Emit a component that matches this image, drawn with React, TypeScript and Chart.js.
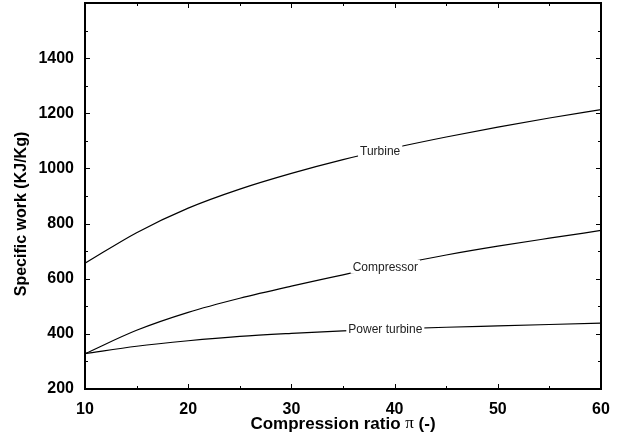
import React, { useEffect, useRef } from 'react';
import { Chart, registerables } from 'chart.js';
Chart.register(...registerables);

const ratios = [10, 15, 20, 25, 30, 35, 40, 45, 50, 55, 60];
const turbine = [656, 767, 856, 925, 982, 1032, 1075, 1114, 1150, 1183, 1213];
const compressor = [328, 413, 478, 529, 573, 614, 650, 686, 718, 747, 775];
const powerTurbine = [328, 355, 375, 391, 402, 411, 418, 424, 429, 434, 439];
const seriesNames = ['Turbine', 'Compressor', 'Power turbine'];
const labelAt = [38.6, 39.1, 39.1];

const xMin = 10, xMax = 60, xStep = 10, xMinor = 5;
const yMin = 200, yMax = 1600, yStep = 200, yMinor = 100;
const yLabelMax = 1400;

const xTitle = ['Compression ratio ', 'π', ' (-)'];
const yTitle = 'Specific work (KJ/Kg)';

const FONT = 'Arial, "Liberation Sans", Helvetica, sans-serif';

function interp(xs: number[], ys: number[], x: number) {
  for (let i = 0; i < xs.length - 1; i++) {
    if (x >= xs[i] && x <= xs[i + 1]) {
      const t = (x - xs[i]) / (xs[i + 1] - xs[i]);
      return ys[i] + t * (ys[i + 1] - ys[i]);
    }
  }
  return ys[ys.length - 1];
}

const allSeries = [turbine, compressor, powerTurbine];

const decoPlugin = {
  id: 'deco',
  afterDatasetsDraw(chart: any) {
    const { ctx, scales } = chart;
    const x = scales.x, y = scales.y;
    ctx.save();
    ctx.font = `12px ${FONT}`;
    ctx.textAlign = 'center';
    ctx.textBaseline = 'middle';
    allSeries.forEach((s, i) => {
      const px = x.getPixelForValue(labelAt[i]);
      const py = y.getPixelForValue(interp(ratios, s, labelAt[i]));
      const w = ctx.measureText(seriesNames[i]).width;
      ctx.fillStyle = '#fff';
      ctx.fillRect(px - w / 2 - 2, py - 7, w + 4, 14);
      ctx.fillStyle = '#222';
      ctx.fillText(seriesNames[i], px, py + 0.5);
    });
    ctx.restore();
  },
  afterDraw(chart: any) {
    const { ctx, chartArea, scales } = chart;
    const { left, right, top, bottom } = chartArea;
    const x = scales.x, y = scales.y;
    ctx.save();
    ctx.strokeStyle = '#000';
    ctx.lineWidth = 1;
    ctx.beginPath();
    for (let v = yMin; v <= yMax; v += yMinor) {
      const py = Math.round(y.getPixelForValue(v)) + 0.5;
      const len = v % yStep === 0 ? 5 : 3;
      ctx.moveTo(left, py); ctx.lineTo(left + len, py);
      ctx.moveTo(right, py); ctx.lineTo(right - len, py);
    }
    for (let v = xMin; v <= xMax; v += xMinor) {
      const px = Math.round(x.getPixelForValue(v)) + 0.5;
      const len = v % xStep === 0 ? 5 : 3;
      ctx.moveTo(px, bottom); ctx.lineTo(px, bottom - len);
      ctx.moveTo(px, top); ctx.lineTo(px, top + len);
    }
    ctx.stroke();
    ctx.lineWidth = 2;
    ctx.strokeRect(left, top, right - left, bottom - top);

    // x-axis title with a symbol-style pi
    const fonts = [`bold 17px ${FONT}`, `17px "Liberation Serif", "DejaVu Serif", serif`, `bold 17px ${FONT}`];
    let total = 0;
    xTitle.forEach((t, i) => { ctx.font = fonts[i]; total += ctx.measureText(t).width; });
    let cx = (left + right) / 2 - total / 2;
    const cy = 424;
    ctx.fillStyle = '#000';
    ctx.textAlign = 'left';
    ctx.textBaseline = 'middle';
    xTitle.forEach((t, i) => { ctx.font = fonts[i]; ctx.fillText(t, cx, cy); cx += ctx.measureText(t).width; });

    // y-axis title
    ctx.save();
    ctx.translate(22, 214);
    ctx.rotate(-Math.PI / 2);
    ctx.font = `bold 16px ${FONT}`;
    ctx.textAlign = 'center';
    ctx.fillText(yTitle, 0, 0);
    ctx.restore();
    ctx.restore();
  },
};

export default function App() {
  const ref = useRef<HTMLCanvasElement>(null);
  useEffect(() => {
    if (!ref.current) return;
    const mk = (s: number[]) => ratios.map((r, i) => ({ x: r, y: s[i] }));
    const chart = new Chart(ref.current, {
      type: 'line',
      data: {
        datasets: allSeries.map((s, i) => ({
          label: seriesNames[i],
          data: mk(s),
          borderColor: '#000',
          borderWidth: 1.2,
          pointRadius: 0,
          fill: false,
          cubicInterpolationMode: 'monotone' as const,
        })),
      },
      options: {
        animation: false,
        responsive: true,
        maintainAspectRatio: false,
        layout: { padding: { top: 3, right: 23, left: 0, bottom: 0 } },
        plugins: { legend: { display: false }, tooltip: { enabled: false } },
        scales: {
          x: {
            type: 'linear',
            min: xMin, max: xMax,
            grid: { display: false },
            border: { display: false },
            ticks: {
              stepSize: xStep,
              color: '#000',
              font: { family: FONT, size: 16, weight: 'bold' },
              padding: 3,
              maxRotation: 0,
            },
            afterFit: (s: any) => { s.height = 50; s.paddingLeft = 0; s.paddingRight = 0; },
          },
          y: {
            type: 'linear',
            min: yMin, max: yMax,
            grid: { display: false },
            border: { display: false },
            ticks: {
              stepSize: yStep,
              color: '#000',
              font: { family: FONT, size: 16, weight: 'bold' },
              padding: 3,
              callback: (v: any) => (Number(v) > yLabelMax ? '' : String(v)),
            },
            afterFit: (s: any) => { s.width = 85; s.paddingTop = 0; s.paddingBottom = 0; },
          },
        },
      },
      plugins: [decoPlugin],
    });
    return () => chart.destroy();
  }, []);
  return (
    <div style={{ position: 'fixed', left: 0, top: 0, width: 624, height: 439, background: '#fff' }}>
      <canvas ref={ref} />
    </div>
  );
}
